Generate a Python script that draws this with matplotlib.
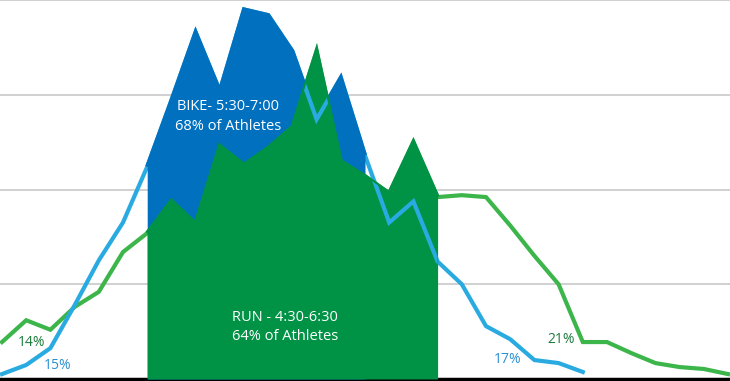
import numpy as np
import matplotlib
matplotlib.use("Agg")
import matplotlib.pyplot as plt

# percentages of athletes per time slot
bike = [0.26, 0.74, 1.63, 3.89, 6.26, 8.26, 11.2, 14.7, 18.3, 15.2, 19.5, 19.2, 17.3,
        13.7, 15.9, 11.8, 8.26, 9.37, 6.2, 5.0, 2.79, 2.1, 1.0, 0.84, 0.37]
run = [1.95, 3.1, 2.6, 3.8, 4.6, 6.7, 7.7, 9.4, 8.2, 12.3, 11.3, 12.2, 13.3, 17.3, 11.5,
       10.7, 9.8, 12.5, 9.6, 9.7, 9.6, 8.1, 6.5, 5.0, 1.95, 1.95, 1.37, 0.84, 0.63, 0.53, 0.26]

# slot index ranges of the highlighted windows
bike_window = (6, 15)
run_window = (6, 18)

bike_label = "BIKE- 5:30-7:00\n68% of Athletes"
run_label = "RUN - 4:30-6:30\n64% of Athletes"
edge_labels = [("14%", 1.2, 1.95, "#1d7a3c"), ("15%", 2.3, 0.72, "#2b8fd1"),
               ("17%", 20.9, 1.02, "#2b8fd1"), ("21%", 23.1, 2.07, "#1d7a3c")]

light_blue = "#29abe2"
dark_blue = "#0070bf"
light_green = "#3cb54a"
dark_green = "#009245"

plt.rcParams['font.family'] = ['Open Sans', 'DejaVu Sans']

fig = plt.figure(figsize=(7.3, 3.81), dpi=100)
ax = fig.add_axes([0, 2 / 381, 1, 379 / 381])

xb = np.arange(len(bike))
xr = np.arange(len(run))
bike = np.array(bike)
run = np.array(run)

for g in [5, 10, 15, 20]:
    ax.axhline(g, color="#c8c8c8", lw=1.2, zorder=0, clip_on=False)

lw = 3.0
ax.plot(xr, run, color=light_green, lw=lw, zorder=2, solid_joinstyle="miter")
ax.plot(xb, bike, color=light_blue, lw=lw, zorder=2.5, solid_joinstyle="miter")

b0, b1 = bike_window
ax.fill_between(xb[b0:b1 + 1], bike[b0:b1 + 1], 0, color=dark_blue, lw=0, zorder=3)
ax.plot(xb[b0:b1 + 1], bike[b0:b1 + 1], color=dark_blue, lw=lw, zorder=3,
        solid_joinstyle="miter", solid_capstyle="butt")

r0, r1 = run_window
gfill = ax.fill_between(xr[r0:r1 + 1], run[r0:r1 + 1], 0, color=dark_green, lw=0, zorder=4)
ax.plot(xr[r0:r1 + 1], run[r0:r1 + 1], color=dark_green, lw=lw, zorder=4,
        solid_joinstyle="miter", solid_capstyle="butt")

# bike line shows on top of the green block
over, = ax.plot(xb, bike, color=light_blue, lw=lw, zorder=5, solid_joinstyle="miter")
over.set_clip_path(gfill.get_paths()[0], ax.transData)

ax.text(9.35, 13.85, bike_label, color="white", ha="center", va="center",
        fontsize=10.5, linespacing=1.4, zorder=6)
ax.text(11.7, 2.75, run_label, color="white", ha="center", va="center",
        fontsize=10.5, linespacing=1.4, zorder=6)
for txt, x, y, c in edge_labels:
    ax.text(x, y, txt, color=c, ha="center", va="center", fontsize=10, zorder=6)

ax.set_xlim(-2 / 24.2, 728 / 24.2)
ax.set_ylim(0, 20)
for s in ["top", "left", "right"]:
    ax.spines[s].set_visible(False)
ax.spines["bottom"].set_color("black")
ax.spines["bottom"].set_linewidth(2.5)
ax.set_xticks([])
ax.set_yticks([])

fig.savefig("out.png", dpi=100)
